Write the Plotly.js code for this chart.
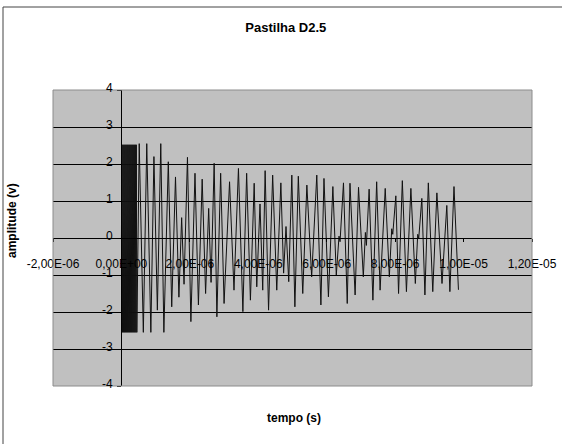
<!DOCTYPE html>
<html>
<head>
<meta charset="utf-8">
<script src="https://cdn.plot.ly/plotly-3.0.1.min.js"></script>
<style>html,body{margin:0;padding:0;background:#fff;}#chart{width:562px;height:444px;}</style>
</head>
<body>
<div id="chart"></div>
<script>
// time in microseconds (converted to seconds for plotting)
const tempo_us = [
  0.000,0.015,0.030,0.045,0.060,0.075,0.090,0.105,0.120,0.135,0.150,0.165,0.180,0.195,0.210,0.225,
  0.240,0.255,0.270,0.285,0.300,0.315,0.330,0.345,0.360,0.375,0.390,0.405,0.420,0.435,0.450,
  0.52,0.64,0.74,0.86,0.95,1.05,1.15,1.24,1.37,1.47,1.58,1.68,1.76,1.83,1.93,2.03,
  2.15,2.25,2.36,2.46,2.55,2.62,2.71,2.79,2.90,3.00,3.16,3.29,3.42,3.55,3.66,3.77,
  3.88,3.955,4.05,4.13,4.20,4.30,4.42,4.54,4.66,4.74,4.81,4.89,4.98,5.07,5.17,5.30,
  5.42,5.56,5.71,5.83,5.92,6.05,6.18,6.28,6.36,6.39,6.49,6.60,6.68,6.83,6.93,7.07,
  7.13,7.16,7.24,7.35,7.46,7.56,7.71,7.83,7.90,7.93,8.02,8.10,8.21,8.33,8.46,8.59,
  8.66,8.69,8.78,8.87,8.97,9.10,9.22,9.37,9.51,9.60,9.72,9.85
];
// amplitude in volts
const amplitude_v = [
  0.00,2.52,-2.55,2.52,-2.55,2.52,-2.55,2.52,-2.55,2.52,-2.55,2.52,-2.55,2.52,-2.55,2.52,
  -2.55,2.52,-2.55,2.52,-2.55,2.52,-2.55,2.52,-2.55,2.52,-2.55,2.52,-2.55,2.52,-2.55,
  2.55,-2.55,2.55,-2.55,2.20,-1.95,2.55,-2.55,2.06,-1.86,1.65,-1.60,0.55,-1.25,2.18,-2.26,
  1.75,-1.81,1.59,-1.50,0.80,-1.20,2.02,-2.13,1.75,-1.77,1.52,-1.41,1.88,-1.99,1.75,-1.68,
  1.48,-1.32,0.92,-1.41,1.82,-1.95,1.70,-1.41,1.49,-0.95,0.31,-1.18,1.70,-1.86,1.67,-1.50,
  1.43,-1.05,1.70,-1.81,1.61,-1.59,1.39,-1.00,0.05,-0.10,1.49,-1.77,1.48,-1.54,1.37,-1.05,
  0.15,-0.20,1.32,-1.68,1.52,-1.41,1.34,-1.05,0.25,0.10,1.14,-1.50,1.55,-1.45,1.34,-1.23,
  0.10,0.00,1.07,-1.54,1.49,-1.45,1.22,-1.23,0.88,-1.45,1.39,-1.40
];

const xTickVals = [-2e-6, 0, 2e-6, 4e-6, 6e-6, 8e-6, 1e-5, 1.2e-5];
const xTickText = ["-2,00E-06","0,00E+00","2,00E-06","4,00E-06","6,00E-06","8,00E-06","1,00E-05","1,20E-05"];
const yTickVals = [-4,-3,-2,-1,0,1,2,3,4];
const yTickText = ["-4","-3","-2","-1","0","1","2","3","4"];

const tempo_s = tempo_us.map(t => t * 1e-6);

const sans = '"Liberation Sans", Arial, sans-serif';

const trace = {
  x: tempo_s,
  y: amplitude_v,
  type: 'scatter',
  mode: 'lines',
  line: {color: '#111111', width: 1},
  hoverinfo: 'skip'
};

// y tick labels placed next to the y axis (which crosses at x = 0)
const yLabelAnnotations = yTickVals.map((v, i) => ({
  text: yTickText[i], xref: 'x', yref: 'y', x: 0, y: v,
  xanchor: 'right', yanchor: 'middle', xshift: -6, yshift: 2,
  showarrow: false, font: {family: sans, size: 12, color: '#000'}
}));

const layout = {
  width: 562, height: 444,
  margin: {l: 53, r: 30, t: 90, b: 58},
  paper_bgcolor: '#ffffff',
  plot_bgcolor: '#c0c0c0',
  showlegend: false,
  title: {
    text: '<b>Pastilha D2.5</b>',
    font: {family: sans, size: 13, color: '#000'},
    x: 0.486, xref: 'paper', xanchor: 'center',
    y: 1 - 27/444, yref: 'container', yanchor: 'middle'
  },
  xaxis: {
    range: [-2.0001e-6, 1.20001e-5],
    anchor: 'free', position: 0.5,
    tickvals: xTickVals, ticktext: xTickText,
    ticks: 'outside', ticklen: 3, tickcolor: '#000', tickwidth: 1,
    ticklabelstandoff: 12,
    tickfont: {family: sans, size: 12, color: '#000'},
    showgrid: false, zeroline: false,
    showline: true, linecolor: '#000', linewidth: 1
  },
  yaxis: {
    range: [-4, 4],
    anchor: 'free', position: 2/14,
    tickvals: yTickVals,
    showticklabels: false,
    ticks: 'outside', ticklen: 4, tickcolor: '#000', tickwidth: 1,
    showgrid: true, gridcolor: '#000', gridwidth: 1,
    zeroline: false,
    showline: true, linecolor: '#000', linewidth: 1
  },
  shapes: [
    {type: 'rect', xref: 'paper', yref: 'paper', x0: 0, x1: 1, y0: 0, y1: 1,
     line: {color: '#8c8c8c', width: 1}, fillcolor: 'rgba(0,0,0,0)', layer: 'above'},
    {type: 'line', xref: 'paper', yref: 'paper', x0: -50/479, x1: -50/479, y0: 379/296, y1: -0.3,
     line: {color: '#444', width: 1}},
    {type: 'line', xref: 'paper', yref: 'paper', x0: -50/479, x1: 1.2, y0: 379/296, y1: 379/296,
     line: {color: '#444', width: 1}}
  ],
  annotations: yLabelAnnotations.concat([
    {text: '<b>amplitude (v)</b>', xref: 'paper', yref: 'paper',
     x: (12-53)/479, y: (386-221)/296, xanchor: 'center', yanchor: 'middle',
     textangle: -90, showarrow: false, font: {family: sans, size: 12, color: '#000'}},
    {text: '<b>tempo (s)</b>', xref: 'paper', yref: 'paper',
     x: (294-53)/479, y: (386-418)/296, xanchor: 'center', yanchor: 'middle',
     showarrow: false, font: {family: sans, size: 12, color: '#000'}}
  ])
};

Plotly.newPlot('chart', [trace], layout, {displayModeBar: false, staticPlot: true});
</script>
</body>
</html>
